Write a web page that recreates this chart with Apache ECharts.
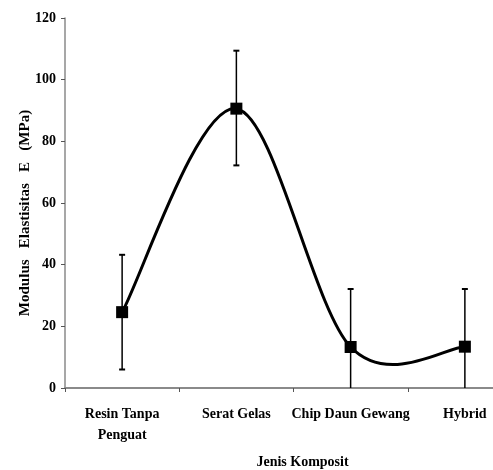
<!DOCTYPE html>
<html>
<head>
<meta charset="UTF-8">
<title>Modulus Elastisitas</title>
<script src="https://cdn.jsdelivr.net/npm/echarts@6/dist/echarts.min.js"></script>
</head>
<body style="margin:0;">
<div id="container" style="width:493px;height:470px;"></div>
<script>
var categories = ['Resin Tanpa\nPenguat', 'Serat Gelas', 'Chip Daun Gewang', 'Hybrid'];
var modulus = [24.6, 90.6, 13.3, 13.4];
var errLow = [6.0, 72.2, -5.5, -5.5];
var errHigh = [43.2, 109.4, 32.1, 32.1];

var chart = echarts.init(document.getElementById('container'));
var font = 'Liberation Serif';

// smooth curve like a spreadsheet's "smoothed line": catmull-rom through the points
function renderCurve(params, api) {
  var i = params.dataIndex;
  var n = modulus.length;
  if (i >= n - 1) return null;
  var pt = function (k) {
    k = Math.max(0, Math.min(n - 1, k));
    return api.coord([k, modulus[k]]);
  };
  var p0 = pt(i - 1), p1 = pt(i), p2 = pt(i + 1), p3 = pt(i + 2);
  var t = 1 / 6;
  return {
    type: 'bezierCurve',
    shape: {
      x1: p1[0], y1: p1[1],
      x2: p2[0], y2: p2[1],
      cpx1: p1[0] + (p2[0] - p0[0]) * t, cpy1: p1[1] + (p2[1] - p0[1]) * t,
      cpx2: p2[0] - (p3[0] - p1[0]) * t, cpy2: p2[1] - (p3[1] - p1[1]) * t
    },
    style: { stroke: '#000', lineWidth: 3, fill: null }
  };
}

var option = {
  animation: false,
  grid: { left: 65, top: 18, width: 457, height: 370, outerBoundsMode: 'none', containLabel: false },
  xAxis: {
    type: 'category',
    data: categories,
    name: 'Jenis Komposit',
    nameLocation: 'middle',
    nameGap: 67,
    nameMoveOverlap: false,
    nameTextStyle: { fontFamily: font, fontWeight: 'bold', fontSize: 14, color: '#000', padding: [0, 0, 0, 18] },
    axisLine: { lineStyle: { color: '#8a8a8a', width: 2 } },
    axisTick: { show: true, length: 4, lineStyle: { color: '#555', width: 1 } },
    axisLabel: { fontFamily: font, fontWeight: 'bold', fontSize: 14, color: '#000', margin: 16, lineHeight: 21, interval: 0 }
  },
  yAxis: {
    type: 'value',
    min: 0,
    max: 120,
    interval: 20,
    name: 'Modulus   Elastisitas   E   (MPa)',
    nameLocation: 'middle',
    nameGap: 32,
    nameMoveOverlap: false,
    nameTextStyle: { fontFamily: font, fontWeight: 'bold', fontSize: 15, color: '#000', padding: [0, 20, 0, 0] },
    axisLine: { show: true, lineStyle: { color: '#8a8a8a', width: 1.5 } },
    axisTick: { show: true, length: 4, lineStyle: { color: '#555' } },
    splitLine: { show: false },
    axisLabel: { fontFamily: font, fontWeight: 'bold', fontSize: 14, color: '#000', margin: 9 }
  },
  series: [
    {
      type: 'custom',
      clip: true,
      z: 1,
      data: categories.map(function (c, i) { return [i, errLow[i], errHigh[i]]; }),
      renderItem: function (params, api) {
        var lo = api.coord([api.value(0), api.value(1)]);
        var hi = api.coord([api.value(0), api.value(2)]);
        var cap = 3;
        return {
          type: 'group',
          children: [
            { type: 'line', shape: { x1: lo[0], y1: lo[1], x2: hi[0], y2: hi[1] }, style: { stroke: '#000', lineWidth: 1.5 } },
            { type: 'line', shape: { x1: hi[0] - cap, y1: hi[1], x2: hi[0] + cap, y2: hi[1] }, style: { stroke: '#000', lineWidth: 2 } },
            { type: 'line', shape: { x1: lo[0] - cap, y1: lo[1], x2: lo[0] + cap, y2: lo[1] }, style: { stroke: '#000', lineWidth: 2 } }
          ]
        };
      }
    },
    {
      type: 'custom',
      clip: true,
      z: 2,
      data: categories.map(function (c, i) { return [i, modulus[i]]; }),
      renderItem: renderCurve
    },
    {
      type: 'scatter',
      z: 3,
      data: categories.map(function (c, i) { return [i, modulus[i]]; }),
      symbol: 'rect',
      symbolSize: 12,
      itemStyle: { color: '#000', opacity: 1 }
    }
  ]
};

chart.setOption(option);
</script>
</body>
</html>
